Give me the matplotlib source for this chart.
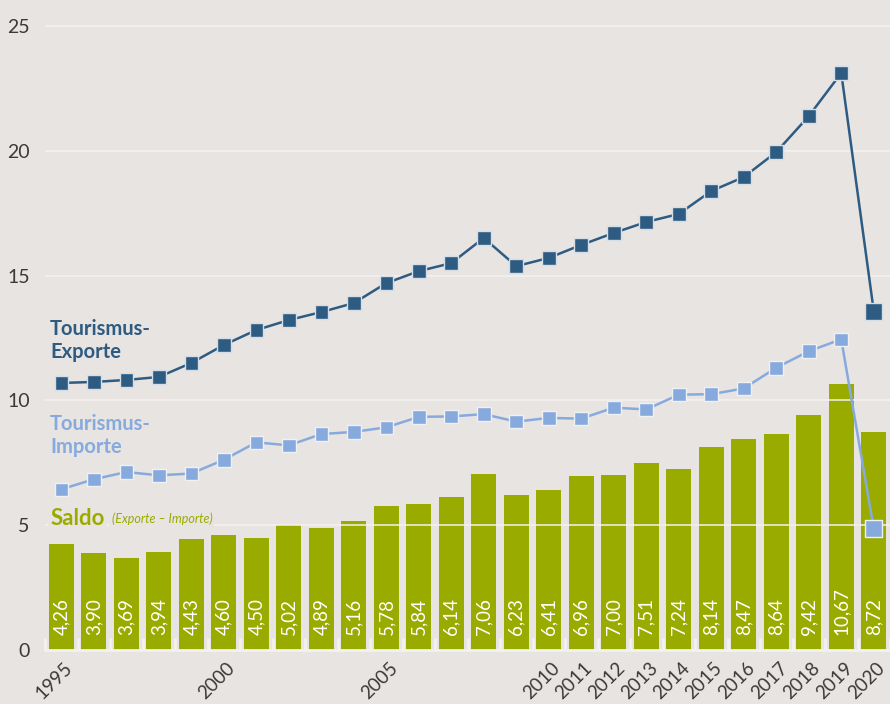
import numpy as np
import matplotlib.pyplot as plt
import matplotlib.transforms as mtransforms

# years and values (billion EUR)
years = list(range(1995, 2021))
saldo = [4.26, 3.90, 3.69, 3.94, 4.43, 4.60, 4.50, 5.02, 4.89, 5.16, 5.78, 5.84, 6.14,
         7.06, 6.23, 6.41, 6.96, 7.00, 7.51, 7.24, 8.14, 8.47, 8.64, 9.42, 10.67, 8.72]
exporte = [10.70, 10.74, 10.82, 10.94, 11.50, 12.22, 12.82, 13.22, 13.54, 13.90, 14.70, 15.18, 15.50,
           16.51, 15.38, 15.71, 16.23, 16.71, 17.15, 17.47, 18.39, 18.95, 19.95, 21.39, 23.12, 13.58]
importe = [6.44, 6.84, 7.13, 7.00, 7.07, 7.62, 8.32, 8.20, 8.65, 8.74, 8.92, 9.34, 9.36,
           9.45, 9.15, 9.30, 9.27, 9.71, 9.64, 10.23, 10.25, 10.48, 11.31, 11.97, 12.45, 4.86]
year_labels = ['1995', '', '', '', '', '2000', '', '', '', '', '2005', '', '', '', '',
               '2010', '2011', '2012', '2013', '2014', '2015', '2016', '2017', '2018', '2019', '2020']
y_ticks = [0, 5, 10, 15, 20, 25]

bg = '#e8e4e1'
green = '#9aab00'
dark = '#2e5b82'
light = '#87aade'
white = '#f4f2f0'

plt.rcParams['font.family'] = ['Lato', 'DejaVu Sans']

fig = plt.figure(figsize=(8.9, 7.04), dpi=100, facecolor=bg)
ax = fig.add_axes([0.0506, 0.0767, 0.9494, 0.904])
ax.set_facecolor(bg)

# bars + value labels
ax.bar(years, saldo, width=0.76, color=green, zorder=1)
for x, v in zip(years, saldo):
    ax.text(x, 0.62, f'{v:.2f}'.replace('.', ','), rotation=90, ha='center', va='bottom',
            color='white', fontsize=13.5, zorder=2)

# grid lines drawn over the bars
for t in y_ticks[1:]:
    ax.axhline(t, color=white, lw=1.1, zorder=1.5)

# lines
sizes = [95] * 25 + [150]
ax.plot(years, importe, color=light, lw=1.8, zorder=3)
ax.scatter(years, importe, s=sizes, marker='s', color=light, edgecolor='#eef0f3',
           linewidth=1, zorder=3.1, clip_on=False)
ax.plot(years, exporte, color=dark, lw=1.8, zorder=4)
ax.scatter(years, exporte, s=sizes, marker='s', color=dark, edgecolor='#d5dde6',
           linewidth=1, zorder=4.1, clip_on=False)

# series labels
ax.text(1994.66, 12.4, 'Tourismus-\nExporte', color=dark, fontsize=14.5, fontweight='bold',
        va='center', ha='left', linespacing=1.2, zorder=5)
ax.text(1994.66, 8.6, 'Tourismus-\nImporte', color=light, fontsize=14.5, fontweight='bold',
        va='center', ha='left', linespacing=1.2, zorder=5)
t1 = ax.text(1994.66, 5.02, 'Saldo', color=green, fontsize=16, fontweight='bold', va='baseline',
             ha='left', zorder=5, bbox=dict(facecolor=bg, edgecolor='none', pad=2))
ax.annotate('(Exporte – Importe)', xy=(1, 0), xycoords=t1, xytext=(5, 4), textcoords='offset points',
            color=green, fontsize=9, fontstyle='italic', va='baseline', ha='left', zorder=5,
            bbox=dict(facecolor=bg, edgecolor='none', pad=1.5))

# axes
ax.set_xlim(1994.51, 2020.25)
ax.set_ylim(0, 25.5)
ax.set_yticks(y_ticks)
ax.set_yticklabels([str(t) for t in y_ticks])
ax.tick_params(axis='y', length=0, pad=11, labelsize=14, labelcolor='#3a3a3a')
ax.set_xticks(years)
ax.set_xticklabels(year_labels, rotation=45, ha='right', va='center', rotation_mode='anchor')
ax.tick_params(axis='x', which='major', length=0, pad=11, labelsize=13.5, labelcolor='#3a3a3a')
shift = mtransforms.ScaledTranslation(6 / 72, 0, fig.dpi_scale_trans)
for lab in ax.get_xticklabels():
    lab.set_transform(lab.get_transform() + shift)
ax.set_xticks(np.arange(1994.5, 2021, 1), minor=True)
ax.tick_params(axis='x', which='minor', direction='in', length=9, width=2, color=white)
for s in ['top', 'right', 'left']:
    ax.spines[s].set_visible(False)
ax.spines['bottom'].set_color(white)
ax.spines['bottom'].set_linewidth(2)

fig.savefig('out.png', dpi=100, facecolor=bg)
